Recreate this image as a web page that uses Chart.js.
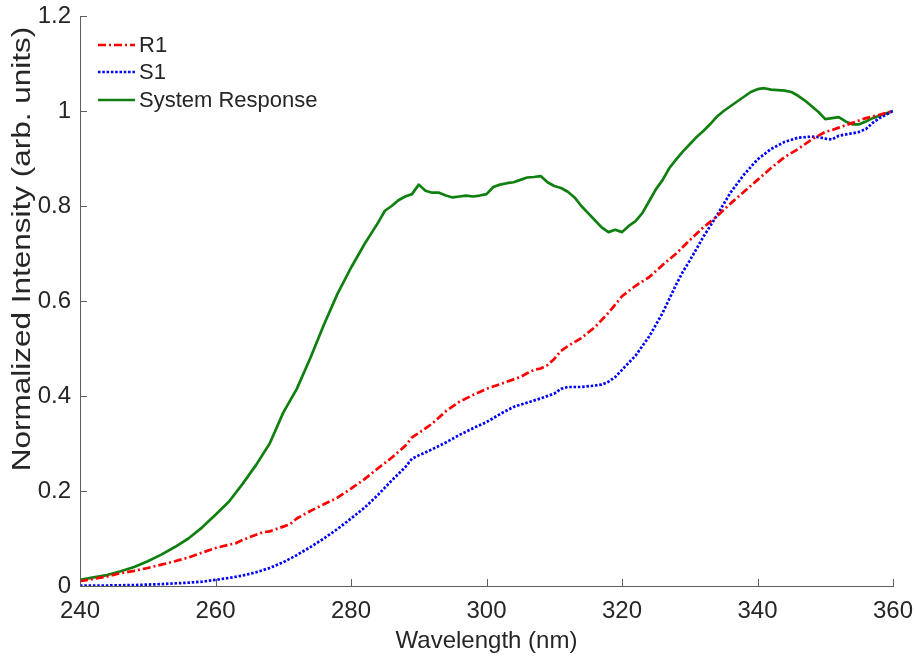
<!DOCTYPE html>
<html>
<head>
<meta charset="utf-8">
<script src="https://cdn.jsdelivr.net/npm/chart.js@4/dist/chart.umd.min.js"></script>
<style>
  html, body { margin: 0; padding: 0; background: #ffffff; }
  canvas { display: block; }
</style>
</head>
<body>
<canvas id="spectra" width="915" height="657" style="width:915px;height:657px"></canvas>
<script>
// ---- Spectral data (normalized intensity vs. wavelength in nm) ----
const r1Wavelength = [240,242,244,246,248,250,252,254,256,258,260,262,263,264,266,267,268,269,270,271,272,274,276,278,280,282,284,286,288,289,290,292,294,296,298,300,302,304,305,306,307,308,309,310,311,312,314,316,318,320,322,324,326,328,330,332,334,336,338,340,342,344,346,348,350,351,352,354,356,358,360];
const r1Intensity = [0.010,0.015,0.020,0.027,0.032,0.038,0.045,0.052,0.060,0.070,0.080,0.087,0.090,0.097,0.108,0.113,0.115,0.120,0.125,0.130,0.142,0.158,0.172,0.186,0.205,0.225,0.248,0.270,0.295,0.313,0.322,0.342,0.368,0.388,0.402,0.415,0.425,0.435,0.440,0.448,0.455,0.458,0.465,0.478,0.495,0.505,0.522,0.545,0.575,0.610,0.632,0.650,0.676,0.700,0.728,0.755,0.778,0.805,0.830,0.855,0.880,0.903,0.920,0.940,0.956,0.960,0.965,0.975,0.985,0.992,1.000];

const s1Wavelength = [240,244,248,252,256,258,260,262,264,266,268,270,272,274,276,278,280,282,284,286,288,289,290,292,294,296,298,300,302,304,306,308,310,311,312,314,316,317,318,319,320,322,324,325,326,327,328,329,330,332,334,336,338,340,342,344,346,348,349,350,351,352,354,355,356,357,358,360];
const s1Intensity = [0.001,0.001,0.002,0.004,0.007,0.009,0.013,0.017,0.022,0.029,0.038,0.050,0.065,0.082,0.100,0.120,0.142,0.165,0.192,0.222,0.250,0.268,0.275,0.288,0.302,0.318,0.332,0.345,0.362,0.377,0.386,0.395,0.405,0.415,0.419,0.419,0.422,0.424,0.430,0.440,0.455,0.485,0.525,0.550,0.575,0.605,0.635,0.662,0.685,0.735,0.780,0.828,0.866,0.898,0.920,0.935,0.944,0.946,0.945,0.942,0.940,0.948,0.953,0.956,0.962,0.975,0.985,1.000];

const sysWavelength = [240,242,244,246,248,250,252,254,256,258,260,262,264,266,268,270,272,274,276,278,280,282,284,285,286,287,288,289,290,291,292,293,294,295,296,297,298,299,300,301,302,303,304,305,306,307,308,309,310,311,312,313,314,315,316,317,318,319,320,321,322,323,324,325,326,327,328,329,330,331,332,333,334,335,336,337,338,339,340,341,342,343,344,345,346,347,348,349,350,351,352,353,354,355,356,357,358,359,360];
const sysIntensity = [0.013,0.018,0.023,0.031,0.040,0.052,0.066,0.082,0.100,0.123,0.150,0.178,0.215,0.255,0.300,0.365,0.415,0.480,0.550,0.615,0.670,0.720,0.765,0.790,0.800,0.812,0.820,0.825,0.845,0.832,0.828,0.828,0.822,0.818,0.820,0.822,0.820,0.822,0.825,0.840,0.845,0.848,0.850,0.855,0.860,0.861,0.863,0.850,0.842,0.838,0.830,0.818,0.800,0.785,0.770,0.755,0.745,0.750,0.745,0.758,0.768,0.785,0.810,0.835,0.855,0.880,0.898,0.915,0.930,0.945,0.958,0.972,0.988,1.000,1.010,1.020,1.030,1.040,1.046,1.048,1.045,1.044,1.043,1.040,1.032,1.022,1.010,0.998,0.983,0.985,0.987,0.978,0.972,0.972,0.978,0.985,0.990,0.995,1.000];

const seriesLabels = ['R1', 'S1', 'System Response'];
const xTicks = [240, 260, 280, 300, 320, 340, 360];
const yTicks = [0, 0.2, 0.4, 0.6, 0.8, 1, 1.2];
const xTitle = 'Wavelength (nm)';
const yTitle = 'Normalized Intensity (arb. units)';

const TEXT_COLOR = '#262626';
const AXIS_COLOR = '#5e5e5e';
const FONT = '"Liberation Sans", Arial, Helvetica, sans-serif';

const toPoints = (xs, ys) => xs.map((x, i) => ({ x, y: ys[i] }));

// Inward tick marks on the left and bottom axes
const inwardTicks = {
  id: 'inwardTicks',
  afterDatasetsDraw(chart) {
    const { ctx, chartArea: a, scales: { x, y } } = chart;
    ctx.save();
    ctx.strokeStyle = AXIS_COLOR;
    ctx.lineWidth = 1;
    ctx.beginPath();
    xTicks.forEach(v => {
      const px = Math.round(x.getPixelForValue(v)) + 0.5;
      ctx.moveTo(px, a.bottom);
      ctx.lineTo(px, a.bottom - 7);
    });
    yTicks.forEach(v => {
      const py = Math.round(y.getPixelForValue(v)) + 0.5;
      ctx.moveTo(a.left, py);
      ctx.lineTo(a.left + 7, py);
    });
    ctx.stroke();
    ctx.restore();
  }
};

// Borderless legend inside the top-left corner of the plot
const insideLegend = {
  id: 'insideLegend',
  afterDraw(chart) {
    const { ctx, chartArea: a } = chart;
    const rowY = [a.top + 29, a.top + 56, a.top + 84];
    chart.data.datasets.forEach((ds, i) => {
      const yy = rowY[i];
      ctx.save();
      ctx.strokeStyle = ds.borderColor;
      ctx.lineWidth = ds.borderWidth;
      ctx.setLineDash(ds.borderDash || []);
      ctx.beginPath();
      ctx.moveTo(a.left + 18, yy);
      ctx.lineTo(a.left + 55, yy);
      ctx.stroke();
      ctx.setLineDash([]);
      ctx.fillStyle = TEXT_COLOR;
      ctx.font = '22px ' + FONT;
      ctx.textAlign = 'left';
      ctx.textBaseline = 'middle';
      ctx.fillText(ds.label, a.left + 59, yy + 1);
      ctx.restore();
    });
  }
};

// Axis titles
const axisTitles = {
  id: 'axisTitles',
  afterDraw(chart) {
    const { ctx, chartArea: a } = chart;
    ctx.save();
    ctx.fillStyle = TEXT_COLOR;
    ctx.textAlign = 'center';
    ctx.textBaseline = 'alphabetic';
    ctx.font = '24px ' + FONT;
    ctx.fillText(xTitle, (a.left + a.right) / 2, 648);
    ctx.translate(30, 249);
    ctx.rotate(-Math.PI / 2);
    ctx.scale(1.26, 1);
    ctx.font = '25px ' + FONT;
    ctx.fillText(yTitle, 0, 0);
    ctx.restore();
  }
};

new Chart(document.getElementById('spectra'), {
  type: 'line',
  data: {
    datasets: [
      {
        label: seriesLabels[0],
        data: toPoints(r1Wavelength, r1Intensity),
        borderColor: '#ff0000',
        borderWidth: 2.7,
        borderDash: [8, 3, 2, 3]
      },
      {
        label: seriesLabels[1],
        data: toPoints(s1Wavelength, s1Intensity),
        borderColor: '#0000ff',
        borderWidth: 2.7,
        borderDash: [2.5, 1.8]
      },
      {
        label: seriesLabels[2],
        data: toPoints(sysWavelength, sysIntensity),
        borderColor: '#0f800f',
        borderWidth: 2.7,
        borderDash: []
      }
    ]
  },
  options: {
    responsive: false,
    animation: false,
    devicePixelRatio: 1,
    layout: { padding: { left: 0, right: 22, top: 16, bottom: 0 } },
    elements: {
      point: { radius: 0 },
      line: { tension: 0, fill: false, borderCapStyle: 'butt', borderJoinStyle: 'round' }
    },
    plugins: {
      legend: { display: false },
      tooltip: { enabled: false },
      title: { display: false }
    },
    scales: {
      x: {
        type: 'linear',
        min: 240,
        max: 360,
        afterFit(scale) {
          scale.height = 71;
          scale.paddingLeft = 0;
          scale.paddingRight = 0;
        },
        afterBuildTicks(scale) { scale.ticks = xTicks.map(v => ({ value: v })); },
        grid: { display: false, drawTicks: false },
        border: { display: true, color: AXIS_COLOR, width: 1 },
        ticks: {
          color: TEXT_COLOR,
          font: { family: FONT, size: 24 },
          padding: 11,
          maxRotation: 0,
          autoSkip: false,
          callback: v => String(v)
        }
      },
      y: {
        type: 'linear',
        min: 0,
        max: 1.2,
        afterFit(scale) {
          scale.width = 80;
          scale.paddingTop = 0;
          scale.paddingBottom = 0;
        },
        afterBuildTicks(scale) { scale.ticks = yTicks.map(v => ({ value: v })); },
        grid: { display: false, drawTicks: false },
        border: { display: true, color: AXIS_COLOR, width: 1 },
        ticks: {
          color: TEXT_COLOR,
          font: { family: FONT, size: 24 },
          padding: 9,
          autoSkip: false,
          callback: v => String(Math.round(v * 10) / 10)
        }
      }
    }
  },
  plugins: [inwardTicks, insideLegend, axisTitles]
});
</script>
</body>
</html>
